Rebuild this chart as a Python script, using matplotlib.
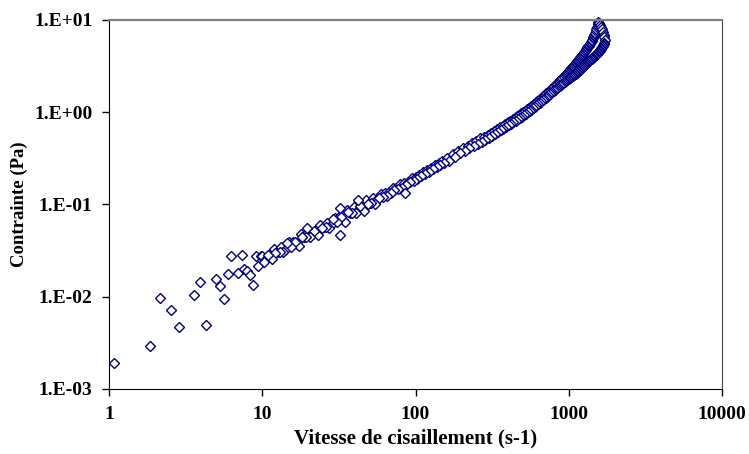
import matplotlib
matplotlib.use("Agg")
import matplotlib.pyplot as plt

# low shear rate points (sparse, noisy)
low_rate = [1.08, 1.84, 2.16, 2.53, 2.88, 3.57, 3.93, 4.30, 4.97, 5.28, 5.65,
            5.95, 6.25, 6.98, 7.34, 7.64, 7.93, 8.32, 8.74, 9.06, 9.42, 9.84]
low_stress = [0.00189, 0.00294, 0.00966, 0.00716, 0.00472, 0.0104, 0.0146,
              0.00497, 0.0157, 0.0131, 0.00955, 0.0176, 0.0277, 0.0182, 0.0280,
              0.0199, 0.0192, 0.0170, 0.01346, 0.0273, 0.0218, 0.0278]

# increasing shear rate, 10 - 150 s-1
up_rate_a = [10.0, 10.59, 11.22, 11.89, 12.59, 13.34, 14.13, 14.96, 15.85, 16.79,
             17.78, 18.84, 19.95, 21.13, 22.39, 23.71, 25.12, 26.61, 28.18, 29.85,
             31.62, 33.50, 35.48, 37.58, 39.81, 42.17, 44.67, 47.32, 50.12, 53.09,
             56.23, 59.57, 63.10, 66.83, 70.79, 74.99, 79.43, 84.14, 89.13, 94.41,
             100.0, 105.9, 112.2, 118.9, 125.9, 133.4, 141.3, 149.6]
up_stress_a = [0.0275, 0.0258, 0.0291, 0.0328, 0.0308, 0.0347, 0.0325, 0.0393,
               0.0394, 0.0370, 0.0479, 0.0439, 0.0506, 0.0474, 0.0535, 0.0603,
               0.0565, 0.0637, 0.0597, 0.0721, 0.0724, 0.0679, 0.0879, 0.0805,
               0.0929, 0.0871, 0.0982, 0.111, 0.1037, 0.117, 0.1161, 0.1294,
               0.133, 0.1352, 0.1524, 0.1514, 0.1667, 0.1714, 0.1762, 0.1941,
               0.200, 0.2089, 0.2265, 0.2371, 0.2483, 0.2692, 0.2818, 0.2985]

# increasing shear rate, 160 - 1000 s-1
up_rate_b = [160, 175, 190, 205, 220, 235, 250, 265, 280, 295, 310, 325, 340,
             355, 370, 385, 400, 415, 430, 445, 460, 475, 490, 505, 520, 535,
             550, 565, 580, 595, 610, 625, 640, 655, 670, 685, 700, 715, 730,
             745, 760, 775, 790, 805, 820, 835, 850, 865, 880, 895, 910, 925,
             940, 955, 970, 985, 1000]
up_stress_b = [0.320, 0.352, 0.378, 0.411, 0.433, 0.465, 0.490, 0.520, 0.541,
               0.573, 0.600, 0.628, 0.662, 0.690, 0.718, 0.752, 0.780, 0.808,
               0.842, 0.870, 0.903, 0.933, 0.970, 1.003, 1.040, 1.083, 1.120,
               1.157, 1.200, 1.235, 1.282, 1.322, 1.372, 1.413, 1.462, 1.503,
               1.552, 1.600, 1.658, 1.705, 1.763, 1.810, 1.868, 1.918, 1.983,
               2.037, 2.104, 2.157, 2.224, 2.276, 2.355, 2.420, 2.505, 2.570,
               2.656, 2.720, 2.805]

# increasing shear rate, 1000 s-1 to the maximum, then the turn-over
up_rate_c = [1012, 1024, 1036, 1048, 1060, 1072, 1084, 1096, 1108, 1120, 1132,
             1144, 1156, 1168, 1180, 1192, 1204, 1216, 1228, 1240, 1252, 1264,
             1276, 1288, 1300, 1312, 1324, 1336, 1348, 1360, 1372, 1384, 1396,
             1408, 1420, 1432, 1444, 1456, 1468, 1480, 1492, 1504, 1516, 1528,
             1540, 1552, 1560, 1575, 1600, 1625, 1650, 1675, 1695, 1710, 1720]
up_stress_c = [2.866, 2.932, 2.998, 3.064, 3.130, 3.196, 3.262, 3.328, 3.402,
               3.480, 3.558, 3.636, 3.714, 3.792, 3.870, 3.948, 4.032, 4.128,
               4.224, 4.320, 4.416, 4.512, 4.608, 4.704, 4.800, 4.920, 5.040,
               5.160, 5.280, 5.400, 5.520, 5.640, 5.760, 5.928, 6.120, 6.312,
               6.504, 6.696, 6.888, 7.080, 7.272, 7.528, 7.912, 8.296, 8.680,
               9.064, 9.40, 9.30, 8.90, 8.40, 7.90, 7.40, 6.90, 6.50, 6.10]

# decreasing shear rate, maximum down to 1000 s-1
down_rate_c = [1710, 1695, 1680, 1665, 1650, 1635, 1620, 1605, 1590, 1575, 1560,
               1545, 1530, 1515, 1500, 1485, 1470, 1455, 1440, 1425, 1410, 1395,
               1380, 1365, 1350, 1335, 1320, 1305, 1290, 1275, 1260, 1245, 1230,
               1215, 1200, 1185, 1170, 1155, 1140, 1125, 1110, 1095, 1080, 1065,
               1050, 1035, 1020, 1005]
down_stress_c = [5.60, 5.46, 5.33, 5.19, 5.05, 4.95, 4.84, 4.74, 4.65, 4.56,
                 4.48, 4.40, 4.32, 4.23, 4.15, 4.09, 4.03, 3.97, 3.91, 3.85, 3.79,
                 3.73, 3.68, 3.62, 3.57, 3.51, 3.45, 3.40, 3.35, 3.29, 3.22, 3.14,
                 3.08, 3.01, 2.95, 2.89, 2.83, 2.78, 2.73, 2.67, 2.62, 2.57, 2.53,
                 2.49, 2.44, 2.40, 2.36, 2.32]

# decreasing shear rate, 990 - 165 s-1
down_rate_b = [990, 975, 960, 945, 930, 915, 900, 885, 870, 855, 840, 825, 810,
               795, 780, 765, 750, 735, 720, 705, 690, 675, 660, 645, 630, 615,
               600, 585, 570, 555, 540, 525, 510, 495, 480, 465, 450, 435, 420,
               405, 390, 375, 360, 345, 330, 315, 300, 285, 270, 255, 240, 225,
               210, 195, 180, 165]
down_stress_b = [2.27, 2.23, 2.19, 2.15, 2.11, 2.06, 2.02, 1.98, 1.93, 1.89,
                 1.84, 1.80, 1.75, 1.71, 1.66, 1.61, 1.57, 1.52, 1.48, 1.43,
                 1.39, 1.35, 1.31, 1.27, 1.23, 1.19, 1.15, 1.11, 1.07, 1.04,
                 1.00, 0.967, 0.931, 0.898, 0.868, 0.838, 0.808, 0.779, 0.749,
                 0.720, 0.692, 0.664, 0.636, 0.609, 0.582, 0.554, 0.526, 0.503,
                 0.478, 0.455, 0.431, 0.407, 0.383, 0.357, 0.329, 0.299]

# decreasing shear rate, 155 - 10 s-1
down_rate_a = [154.1, 145.5, 137.4, 129.7, 122.5, 115.6, 109.1, 103.0, 97.2, 91.8,
               86.7, 81.8, 77.2, 72.9, 68.8, 65.0, 61.4, 57.9, 54.7, 51.6, 48.7,
               46.0, 43.4, 41.0, 38.7, 36.5, 34.5, 32.6, 30.7, 29.0, 27.4, 25.9,
               24.4, 23.1, 21.8, 20.5, 19.4, 18.3, 17.3, 16.3, 15.4, 14.6, 13.7,
               13.0, 12.2, 11.6, 10.9, 10.3]
down_stress_a = [0.2851, 0.2692, 0.2541, 0.2399, 0.2265, 0.2138, 0.2018, 0.1905,
                 0.1811, 0.1762, 0.1637, 0.1521, 0.1479, 0.1439, 0.1337, 0.1242,
                 0.1208, 0.1175, 0.1019, 0.1037, 0.1009, 0.0855, 0.0955, 0.0809,
                 0.0805, 0.0820, 0.0649, 0.0724, 0.0643, 0.0702, 0.0555, 0.0565,
                 0.0550, 0.0466, 0.0520, 0.0441, 0.0439, 0.0447, 0.0353, 0.0394,
                 0.0350, 0.0382, 0.0302, 0.0308, 0.0299, 0.0254, 0.0283, 0.0240]

# scattered points around the band
stray_rate = [19.5, 32.2, 42.2, 85.4, 32.2]
stray_stress = [0.0553, 0.0469, 0.112, 0.132, 0.0912]

x_ticks = [1, 10, 100, 1000, 10000]
x_labels = ["1", "10", "100", "1000", "10000"]
y_ticks = [1e-3, 1e-2, 1e-1, 1, 10]
y_labels = ["1.E-03", "1.E-02", "1.E-01", "1.E+00", "1.E+01"]

plt.rcParams["font.family"] = ["Liberation Serif", "DejaVu Serif"]
plt.rcParams["font.weight"] = "bold"

fig = plt.figure(figsize=(7.49, 4.54), dpi=100)
ax = fig.add_axes([0.1455, 0.1432, 0.8185, 0.8128])

style = dict(linestyle="none", marker="D", ms=5.2, mfc="white",
             mec="#000080", mew=1.0, clip_on=False)
series = [(low_rate, low_stress), (up_rate_a, up_stress_a),
          (up_rate_b, up_stress_b), (up_rate_c, up_stress_c),
          (down_rate_c, down_stress_c), (down_rate_b, down_stress_b),
          (down_rate_a, down_stress_a), (stray_rate, stray_stress)]
for rate, stress in series:
    ax.plot(rate, stress, **style)

ax.set_xscale("log")
ax.set_yscale("log")
ax.set_xlim(1, 10000)
ax.set_ylim(1e-3, 10)
ax.set_xticks(x_ticks)
ax.set_xticklabels(x_labels)
ax.set_yticks(y_ticks)
ax.set_yticklabels(y_labels)
ax.minorticks_off()
ax.tick_params(axis="both", labelsize=14, length=5, width=1, color="black")
ax.tick_params(axis="x", pad=7)
ax.tick_params(axis="y", pad=7)

ax.spines["left"].set_color("black")
ax.spines["bottom"].set_color("black")
ax.spines["top"].set_color("#808080")
ax.spines["top"].set_linewidth(1.6)
ax.spines["right"].set_color("#404040")

ax.set_xlabel("Vitesse de cisaillement (s-1)", fontsize=15, fontweight="bold",
              labelpad=4)
ax.set_ylabel("Contrainte (Pa)", fontsize=13.5, fontweight="bold")
ax.yaxis.set_label_coords(-0.132, 0.5)

fig.savefig("out.png", dpi=100)
